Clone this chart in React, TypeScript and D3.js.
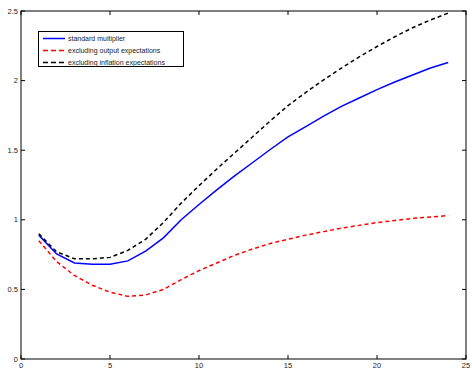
import React, { useEffect, useRef } from "react";
import * as d3 from "d3";

const periods = d3.range(1, 25);
const standard = [0.89, 0.755, 0.69, 0.68, 0.68, 0.705, 0.775, 0.87, 1.0, 1.11, 1.215, 1.315, 1.41, 1.505, 1.595, 1.67, 1.745, 1.815, 1.875, 1.935, 1.99, 2.04, 2.09, 2.13];
const exclOutput = [0.85, 0.70, 0.60, 0.53, 0.48, 0.45, 0.46, 0.50, 0.57, 0.635, 0.69, 0.745, 0.79, 0.83, 0.86, 0.89, 0.915, 0.94, 0.96, 0.98, 0.995, 1.01, 1.02, 1.03];
const exclInflation = [0.90, 0.77, 0.72, 0.72, 0.73, 0.78, 0.86, 0.98, 1.12, 1.245, 1.365, 1.48, 1.595, 1.71, 1.82, 1.915, 2.005, 2.09, 2.17, 2.245, 2.315, 2.38, 2.435, 2.485];
const xTicks = [0, 5, 10, 15, 20, 25];
const yTicks = [0, 0.5, 1, 1.5, 2, 2.5];
const seriesNames = ["standard multiplier", "excluding output expectations", "excluding inflation expectations"];
const seriesColors = ["#0000ff", "#ff0000", "#000000"];
const seriesDash = [null, "4,3", "4,3"];

export default function App() {
  const ref = useRef<SVGSVGElement | null>(null);

  useEffect(() => {
    if (!ref.current) return;
    const width = 472;
    const height = 370;
    const m = { left: 21, top: 11, right: 6, bottom: 11 };
    const svg = d3.select(ref.current);
    svg.selectAll("*").remove();
    svg.attr("width", width).attr("height", height);

    const x = d3.scaleLinear().domain([0, 25]).range([m.left, width - m.right]);
    const y = d3.scaleLinear().domain([0, 2.5]).range([height - m.bottom, m.top]);
    const font = "Liberation Sans, Arial, sans-serif";

    svg.append("rect").attr("width", width).attr("height", height).attr("fill", "#fff");

    const line = d3
      .line<number>()
      .x((_, i) => x(periods[i]))
      .y((d) => y(d));

    [standard, exclOutput, exclInflation].forEach((s, i) => {
      svg
        .append("path")
        .attr("d", line(s)!)
        .attr("fill", "none")
        .attr("stroke", seriesColors[i])
        .attr("stroke-width", 1.5)
        .attr("stroke-dasharray", seriesDash[i] as any);
    });

    // 축 테두리
    svg
      .append("rect")
      .attr("x", x(0))
      .attr("y", y(2.5))
      .attr("width", x(25) - x(0))
      .attr("height", y(0) - y(2.5))
      .attr("fill", "none")
      .attr("stroke", "#000")
      .attr("stroke-width", 1);

    const tl = 4;
    xTicks.forEach((t) => {
      svg.append("line").attr("x1", x(t)).attr("x2", x(t)).attr("y1", y(0)).attr("y2", y(0) - tl).attr("stroke", "#000");
      svg.append("line").attr("x1", x(t)).attr("x2", x(t)).attr("y1", y(2.5)).attr("y2", y(2.5) + tl).attr("stroke", "#000");
      svg
        .append("text")
        .attr("x", x(t))
        .attr("y", y(0) + 9)
        .attr("text-anchor", "middle")
        .attr("font-family", font)
        .attr("font-size", 7.5)
        .attr("fill", "#222")
        .text(String(t));
    });
    yTicks.forEach((t) => {
      svg.append("line").attr("x1", x(0)).attr("x2", x(0) + tl).attr("y1", y(t)).attr("y2", y(t)).attr("stroke", "#000");
      svg.append("line").attr("x1", x(25)).attr("x2", x(25) - tl).attr("y1", y(t)).attr("y2", y(t)).attr("stroke", "#000");
      svg
        .append("text")
        .attr("x", x(0) - 3)
        .attr("y", y(t) + 2.5)
        .attr("text-anchor", "end")
        .attr("font-family", font)
        .attr("font-size", 7.5)
        .attr("fill", "#222")
        .text(String(t));
    });

    // 범례
    const lg = svg.append("g");
    lg.append("rect")
      .attr("x", 38.5)
      .attr("y", 31.5)
      .attr("width", 145)
      .attr("height", 35)
      .attr("fill", "#fff")
      .attr("stroke", "#000");
    seriesNames.forEach((name, i) => {
      const yy = 38.5 + i * 12;
      lg.append("line")
        .attr("x1", 43)
        .attr("x2", 65)
        .attr("y1", yy)
        .attr("y2", yy)
        .attr("stroke", seriesColors[i])
        .attr("stroke-width", 1.5)
        .attr("stroke-dasharray", seriesDash[i] ? "5,3" : (null as any));
      lg.append("text")
        .attr("x", 68)
        .attr("y", yy + 2.5)
        .attr("font-family", font)
        .attr("font-size", 7)
        .attr("fill", "#222")
        .text(name);
    });
  }, []);

  return <svg ref={ref} style={{ position: "absolute", left: 0, top: 0 }} />;
}
